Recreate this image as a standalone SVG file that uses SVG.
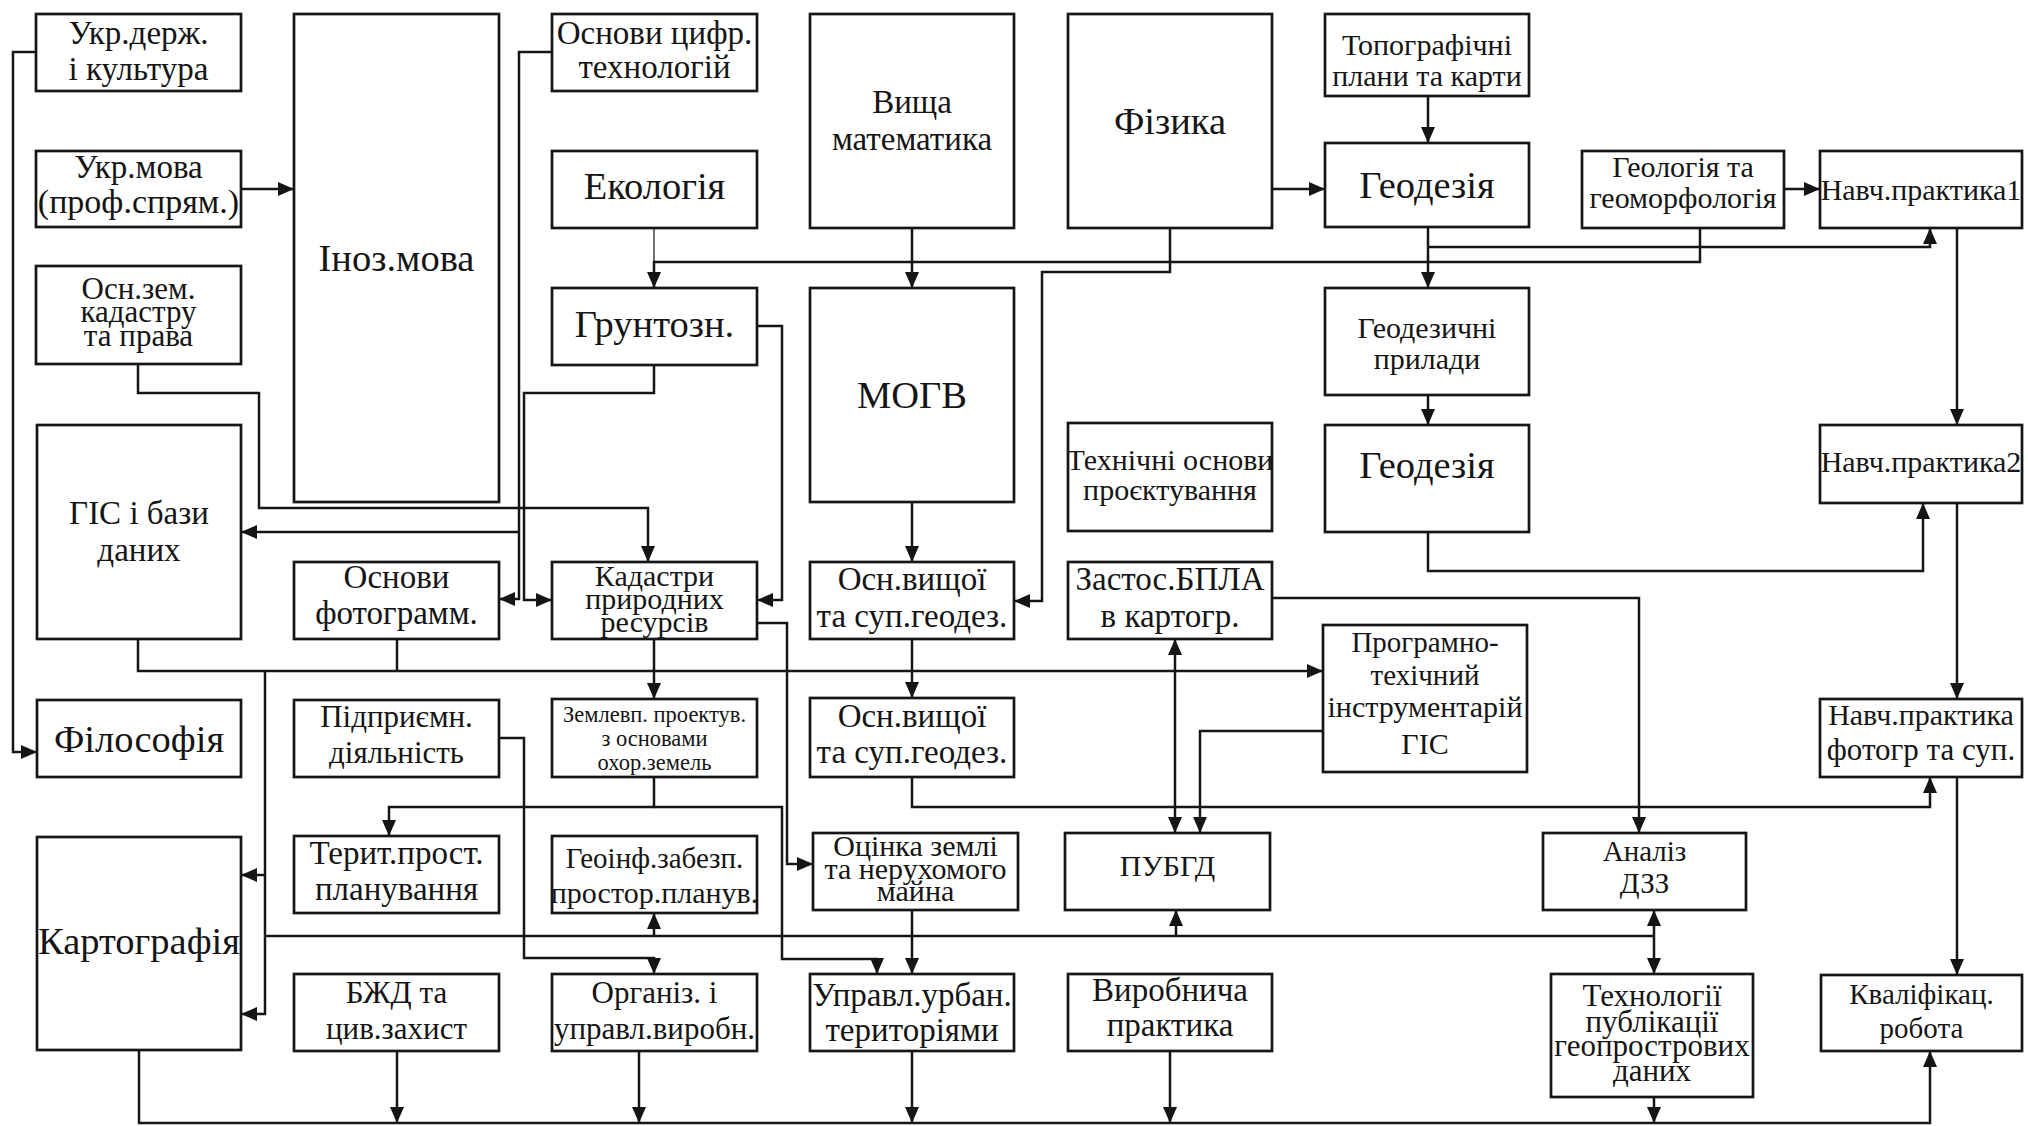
<svg xmlns="http://www.w3.org/2000/svg" width="2028" height="1126" viewBox="0 0 2028 1126">
<style>
.b{fill:#fff;stroke:#151515;stroke-width:2.7}
text{font-family:"Liberation Serif","Times New Roman",serif;fill:#151515;text-anchor:middle;font-size:33px}
.l{font-size:38.5px}
.n{font-size:31px}
.s{font-size:30px}
.r{font-size:29px}
.xs{font-size:22.5px}
.c{fill:none;stroke:#151515;stroke-width:2.5}
.a{marker-end:url(#ah)}
.thin{stroke-width:1.2}
</style>
<defs>
<marker id="ah" markerUnits="userSpaceOnUse" markerWidth="16" markerHeight="14" viewBox="0 0 16 14" refX="16" refY="7" orient="auto-start-reverse">
<path d="M0,0 L16,7 L0,14 z" fill="#151515"/>
</marker>
</defs>
<rect width="2028" height="1126" fill="#fff"/>

<g id="connectors">
<path class="c a" d="M36,52 H13 V752 H37"/>
<path class="c a" d="M241,189 H294"/>
<path class="c a" d="M138,364 V393 H259 V508 H648 V562"/>
<path class="c a" d="M552,52 H519 V599 H499"/>
<path class="c a" d="M519,532 H241"/>
<path class="c a" d="M654,365 V393 H524 V600 H552"/>
<path class="c a" d="M757,326 H782 V600 H757"/>
<path class="c thin" d="M654,228 V262"/>
<path class="c a" d="M1700,228 V262 H654 V288"/>
<path class="c a" d="M912,228 V288"/>
<path class="c a" d="M1272,189 H1325"/>
<path class="c a" d="M1170,228 V272 H1042 V601 H1014"/>
<path class="c a" d="M1428,96 V143"/>
<path class="c a" d="M1428,227 V288"/>
<path class="c a" d="M1428,247 H1930 V228"/>
<path class="c a" d="M1784,189 H1820"/>
<path class="c a" d="M1957,228 V425"/>
<path class="c a" d="M1428,395 V425"/>
<path class="c a" d="M1428,532 V571 H1923 V503"/>
<path class="c a" d="M1957,503 V699"/>
<path class="c a" d="M912,502 V562"/>
<path class="c a" d="M912,639 V698"/>
<path class="c a" d="M654,639 V699"/>
<path class="c a" d="M138,639 V671 H1323"/>
<path class="c" d="M397,639 V671"/>
<path class="c a" d="M265,671 V1014 H241"/>
<path class="c a" d="M265,875 H241"/>
<path class="c" d="M265,936 H1654"/>
<path class="c a" d="M654,936 V913"/>
<path class="c a" d="M1176,936 V910"/>
<path class="c a" d="M1654,936 V910"/>
<path class="c a" d="M1654,936 V974"/>
<path class="c a" d="M757,623 H787 V864 H813"/>
<path class="c a" d="M654,777 V807 H389 V836"/>
<path class="c a" d="M654,807 H782 V959 H877 V974"/>
<path class="c a" d="M499,738 H524 V958 H654 V974"/>
<path class="c a" d="M912,910 V974"/>
<path class="c a" d="M912,777 V807 H1930 V777"/>
<path class="c a" d="M1175,833 V639" style="marker-start:url(#ah)"/>
<path class="c a" d="M1323,731 H1200 V833"/>
<path class="c a" d="M1272,598 H1639 V833"/>
<path class="c a" d="M1957,777 V975"/>
<path class="c a" d="M139,1050 V1123 H1930 V1051"/>
<path class="c a" d="M397,1051 V1123"/>
<path class="c a" d="M639,1051 V1123"/>
<path class="c a" d="M912,1051 V1123"/>
<path class="c a" d="M1170,1051 V1123"/>
<path class="c a" d="M1654,1097 V1123"/>
</g>

<g id="n-ukrderzh"><rect class="b" x="36" y="14" width="205" height="77"/><text x="138.5" y="44">Укр.держ.</text><text x="138.5" y="80">і культура</text></g>
<g id="n-ukrmova"><rect class="b" x="36" y="151" width="205" height="76"/><text x="138.5" y="178">Укр.мова</text><text x="138.5" y="213" style="font-size:34px">(проф.спрям.)</text></g>
<g id="n-oskad"><rect class="b" x="36" y="266" width="205" height="98"/><text class="n" x="138.5" y="299">Осн.зем.</text><text class="n" x="138.5" y="322">кадастру</text><text class="n" x="138.5" y="346">та права</text></g>
<g id="n-gis"><rect class="b" x="37" y="425" width="204" height="214"/><text x="139" y="524">ГІС і бази</text><text x="139" y="561">даних</text></g>
<g id="n-filos"><rect class="b" x="37" y="700" width="204" height="77"/><text class="l" x="139" y="752">Філософія</text></g>
<g id="n-kartogr"><rect class="b" x="37" y="837" width="204" height="213"/><text class="l" x="139" y="954">Картографія</text></g>

<g id="n-inoz"><rect class="b" x="294" y="14" width="205" height="488"/><text class="l" x="396.5" y="271">Іноз.мова</text></g>
<g id="n-fotogram"><rect class="b" x="294" y="562" width="205" height="77"/><text x="396.5" y="588">Основи</text><text x="396.5" y="624">фотограмм.</text></g>
<g id="n-pidpr"><rect class="b" x="294" y="700" width="205" height="77"/><text class="n" x="396.5" y="727">Підприємн.</text><text class="n" x="396.5" y="763">діяльність</text></g>
<g id="n-terit"><rect class="b" x="294" y="836" width="205" height="77"/><text x="396.5" y="864">Терит.прост.</text><text x="396.5" y="900">планування</text></g>
<g id="n-bzhd"><rect class="b" x="294" y="974" width="205" height="77"/><text class="n" x="396.5" y="1003">БЖД та</text><text class="n" x="396.5" y="1039">цив.захист</text></g>

<g id="n-osntsyfr"><rect class="b" x="552" y="14" width="205" height="77"/><text x="654.5" y="44">Основи цифр.</text><text x="654.5" y="78">технологій</text></g>
<g id="n-ekol"><rect class="b" x="552" y="151" width="205" height="77"/><text class="l" x="654.5" y="199">Екологія</text></g>
<g id="n-gruntozn"><rect class="b" x="552" y="288" width="205" height="77"/><text class="l" x="654.5" y="337">Грунтозн.</text></g>
<g id="n-kadastry"><rect class="b" x="552" y="562" width="205" height="77"/><text class="s" x="654.5" y="586">Кадастри</text><text class="s" x="654.5" y="609">природних</text><text class="s" x="654.5" y="632">ресурсів</text></g>
<g id="n-zemlevp"><rect class="b" x="552" y="699" width="205" height="78"/><text class="xs" x="654.5" y="722">Землевп. проектув.</text><text class="xs" x="654.5" y="746">з основами</text><text class="xs" x="654.5" y="770">охор.земель</text></g>
<g id="n-geoinf"><rect class="b" x="552" y="836" width="205" height="77"/><text class="r" x="654.5" y="868">Геоінф.забезп.</text><text class="s" x="654.5" y="903">простор.планув.</text></g>
<g id="n-organiz"><rect class="b" x="552" y="974" width="205" height="77"/><text class="n" x="654.5" y="1003">Організ. і</text><text class="n" x="654.5" y="1039">управл.виробн.</text></g>

<g id="n-vyshcha"><rect class="b" x="810" y="14" width="204" height="214"/><text x="912" y="113">Вища</text><text x="912" y="150">математика</text></g>
<g id="n-mogv"><rect class="b" x="810" y="288" width="204" height="214"/><text class="l" x="912" y="408">МОГВ</text></g>
<g id="n-osnvyshch1"><rect class="b" x="810" y="562" width="204" height="77"/><text x="912" y="590">Осн.вищої</text><text x="912" y="627">та суп.геодез.</text></g>
<g id="n-osnvyshch2"><rect class="b" x="810" y="698" width="204" height="79"/><text x="912" y="727">Осн.вищої</text><text x="912" y="763">та суп.геодез.</text></g>
<g id="n-otsinka"><rect class="b" x="813" y="833" width="205" height="77"/><text class="s" x="915.5" y="856">Оцінка землі</text><text class="s" x="915.5" y="879">та нерухомого</text><text class="s" x="915.5" y="901">майна</text></g>
<g id="n-upravl"><rect class="b" x="810" y="974" width="204" height="77"/><text x="912" y="1006">Управл.урбан.</text><text x="912" y="1041">територіями</text></g>

<g id="n-fizyka"><rect class="b" x="1068" y="14" width="204" height="214"/><text class="l" x="1170" y="134">Фізика</text></g>
<g id="n-tehosn"><rect class="b" x="1068" y="423" width="204" height="108"/><text class="s" x="1170" y="470">Технічні основи</text><text class="s" x="1170" y="500">проєктування</text></g>
<g id="n-bpla"><rect class="b" x="1068" y="562" width="204" height="77"/><text x="1170" y="590">Застос.БПЛА</text><text x="1170" y="627">в картогр.</text></g>
<g id="n-pubgd"><rect class="b" x="1065" y="833" width="205" height="77"/><text class="s" x="1167.5" y="876">ПУБГД</text></g>
<g id="n-vyrobn"><rect class="b" x="1068" y="974" width="204" height="77"/><text x="1170" y="1001">Виробнича</text><text x="1170" y="1036">практика</text></g>

<g id="n-topo"><rect class="b" x="1325" y="14" width="204" height="82"/><text class="s" x="1427" y="55">Топографічні</text><text class="s" x="1427" y="86">плани та карти</text></g>
<g id="n-geodez1"><rect class="b" x="1325" y="143" width="204" height="84"/><text class="l" x="1427" y="198">Геодезія</text></g>
<g id="n-geodprylady"><rect class="b" x="1325" y="288" width="204" height="107"/><text class="s" x="1427" y="338">Геодезичні</text><text class="s" x="1427" y="369">прилади</text></g>
<g id="n-geodez2"><rect class="b" x="1325" y="425" width="204" height="107"/><text class="l" x="1427" y="478">Геодезія</text></g>
<g id="n-prohram"><rect class="b" x="1323" y="625" width="204" height="147"/><text class="r" x="1425" y="652">Програмно-</text><text class="r" x="1425" y="685">техічний</text><text class="s" x="1425" y="717">інструментарій</text><text class="s" x="1425" y="754">ГІС</text></g>
<g id="n-analiz"><rect class="b" x="1543" y="833" width="203" height="77"/><text class="r" x="1644.5" y="861">Аналіз</text><text class="r" x="1644.5" y="893">ДЗЗ</text></g>
<g id="n-tehnol"><rect class="b" x="1551" y="974" width="202" height="123"/><text class="n" x="1652" y="1006">Технології</text><text class="n" x="1652" y="1032">публікації</text><text class="n" x="1652" y="1056">геопрострових</text><text class="n" x="1652" y="1081">даних</text></g>

<g id="n-geolog"><rect class="b" x="1582" y="151" width="202" height="77"/><text class="s" x="1683" y="177">Геологія та</text><text class="s" x="1683" y="208">геоморфологія</text></g>
<g id="n-navch1"><rect class="b" x="1820" y="151" width="202" height="77"/><text class="s" x="1921" y="200">Навч.практика1</text></g>
<g id="n-navch2"><rect class="b" x="1820" y="425" width="202" height="78"/><text class="s" x="1921" y="472">Навч.практика2</text></g>
<g id="n-navchfoto"><rect class="b" x="1820" y="699" width="202" height="78"/><text class="s" x="1921" y="725">Навч.практика</text><text class="n" x="1921" y="760">фотогр та суп.</text></g>
<g id="n-kvalif"><rect class="b" x="1821" y="975" width="201" height="76"/><text class="r" x="1921.5" y="1004">Кваліфікац.</text><text class="r" x="1921.5" y="1038">робота</text></g>
</svg>
